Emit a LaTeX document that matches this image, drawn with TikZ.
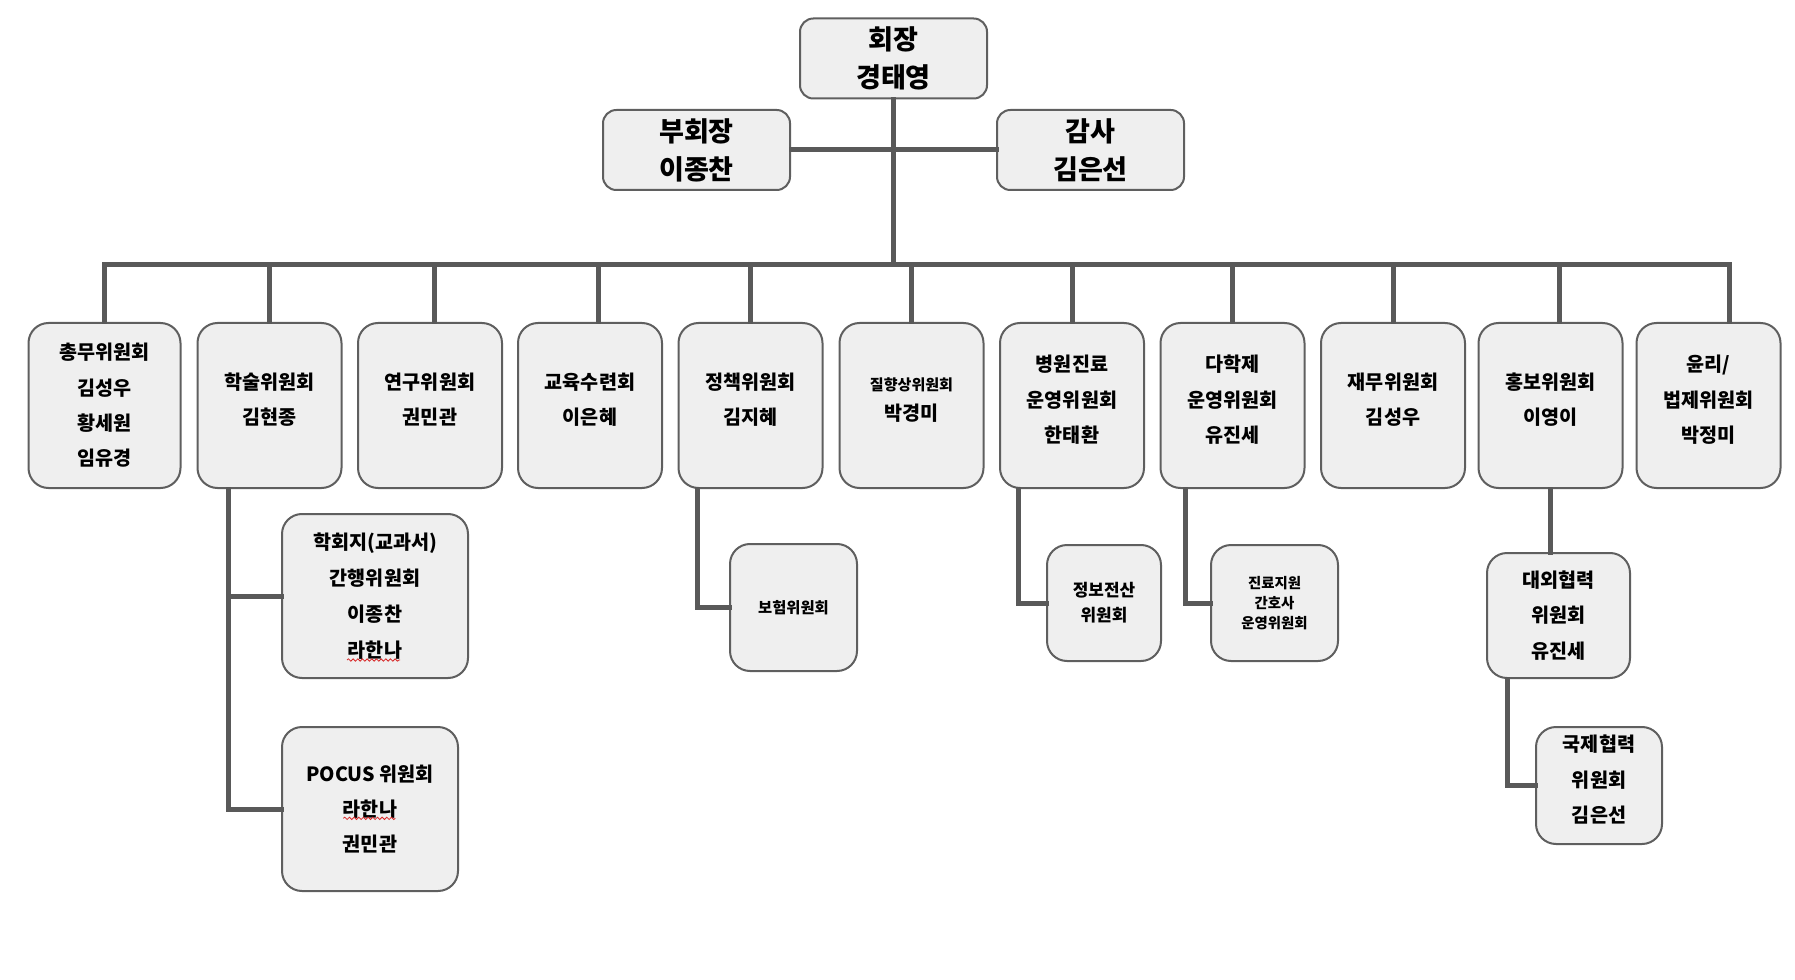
\documentclass[tikz,border=0pt]{standalone}
\usepackage{fontspec}
\setmainfont{Noto Sans CJK KR}
\usetikzlibrary{decorations.pathmorphing}

\tikzset{every picture/.style={line width=0.75pt}}
\tikzset{
  orgbox/.style={draw={rgb, 255:red, 95; green, 95; blue, 95}, fill={rgb, 255:red, 239; green, 239; blue, 239}, line width=1.5pt, rounded corners=15pt, inner sep=0pt, align=center, font=\bfseries\fontsize{14.7}{26.5}\selectfont},
  headbox/.style={orgbox, rounded corners=10pt, minimum width=140.25pt, minimum height=60pt, font=\bfseries\fontsize{20.3}{28.5}\selectfont},
  deptbox/.style={orgbox, minimum width=108pt, minimum height=123.75pt},
  lifted/.style={text depth=10pt},
  link/.style={draw={rgb, 255:red, 89; green, 89; blue, 89}, line width=3.75pt, line cap=rect, line join=miter},
  spell/.style={draw={rgb, 255:red, 215; green, 40; blue, 40}, line width=0.6pt, decorate, decoration={snake, amplitude=0.9pt, segment length=3.5pt}}
}

\begin{document}
\begin{tikzpicture}[x=0.75pt,y=0.75pt,yscale=-1,xscale=1]
\useasboundingbox (0,0) rectangle (1795,980);

%Shape: Rounded Rect [top]
\node[headbox] (pres) at (893.5,58.5) {회장\\경태영};
\node[headbox] (vp) at (696.5,150) {부회장\\이종찬};
\node[headbox] (aud) at (1090.5,150) {감사\\김은선};

%Shape: Rounded Rect [committees]
\node[deptbox, minimum width=114pt] (gen) at (104.5,405.5) {총무위원회\\김성우\\황세원\\임유경};
\node[deptbox, lifted] (acad) at (269.5,405.5) {학술위원회\\김현종};
\node[deptbox, lifted] (res) at (430,405.5) {연구위원회\\권민관};
\node[deptbox, lifted] (edu) at (590,405.5) {교육수련회\\이은혜};
\node[deptbox, lifted] (pol) at (750.5,405.5) {정책위원회\\김지혜};
\node[deptbox, lifted, font=\bfseries\fontsize{14.7}{22.5}\selectfont] (qi) at (911.5,405.5) {{\fontsize{11.3}{12}\selectfont 질향상위원회}\\박경미};
\node[deptbox, lifted] (hosp) at (1072,405.5) {병원진료\\운영위원회\\한태환};
\node[deptbox, lifted] (mdt) at (1232.5,405.5) {다학제\\운영위원회\\유진세};
\node[deptbox, lifted] (fin) at (1393,405.5) {재무위원회\\김성우};
\node[deptbox, lifted] (pr) at (1550.5,405.5) {홍보위원회\\이영이};
\node[deptbox, lifted] (eth) at (1708.5,405.5) {윤리/\\법제위원회\\박정미};

%Shape: Rounded Rect [sub committees]
\node[orgbox, minimum width=139.5pt, minimum height=123pt, font=\bfseries\fontsize{14.7}{27}\selectfont] (journal) at (375,596) {학회지(교과서)\\간행위원회\\이종찬\\라한나};
\node[orgbox, minimum width=132pt, minimum height=123pt] (pocus) at (370,809) {POCUS 위원회\\라한나\\권민관};
\node[orgbox, minimum width=95.25pt, minimum height=95.25pt, font=\bfseries\fontsize{11.5}{15}\selectfont] (insur) at (793.5,607.5) {보험위원회};
\node[orgbox, minimum width=85.5pt, minimum height=87pt, font=\bfseries\fontsize{12.7}{18.75}\selectfont] (it) at (1104,603) {정보전산\\위원회};
\node[orgbox, minimum width=95.25pt, minimum height=87pt, font=\bfseries\fontsize{10.8}{15}\selectfont] (pa) at (1274.5,603) {진료지원\\간호사\\운영위원회};
\node[orgbox, minimum width=107.25pt, minimum height=93.75pt] (ext) at (1558.5,615.5) {대외협력\\위원회\\유진세};
\node[orgbox, lifted, minimum width=94.5pt, minimum height=87.75pt] (intl) at (1599,785.5) {국제협력\\위원회\\김은선};

% Connectors
\coordinate (bus) at (893.5,265);
\draw[link] (pres.south) -- (bus);
\draw[link] (vp.east) -- (aud.west);
\draw[link] (gen.north |- bus) -- ([xshift=16pt]eth.north |- bus);
\foreach \n/\s in {gen/0,acad/0,res/3,edu/6,pol/0,qi/0,hosp/0,mdt/0,fin/0,pr/7,eth/16}
  \draw[link] ([xshift=\s pt]\n.north) -- ([xshift=\s pt]\n.north |- bus);

\coordinate (acadx) at ([xshift=-31pt]acad.south);
\draw[link] (acadx) |- (pocus.west);
\draw[link] (acadx |- journal.west) -- (journal.west);
\draw[link] ([xshift=-40pt]pol.south) |- (insur.west);
\draw[link] ([xshift=-40.5pt]hosp.south) |- (it.west);
\draw[link] ([xshift=-35.6pt]mdt.south) |- (pa.west);
\draw[link] (pr.south) -- (pr.south |- ext.north);
\draw[link] ([xshift=-38.6pt]ext.south) |- (intl.west);

% Spell marks
\draw[spell] ([xshift=-21pt,yshift=48pt]journal.center) -- ++(53,0);
\draw[spell] ([xshift=-20pt,yshift=7pt]pocus.center) -- ++(52,0);

\end{tikzpicture}
\end{document}
